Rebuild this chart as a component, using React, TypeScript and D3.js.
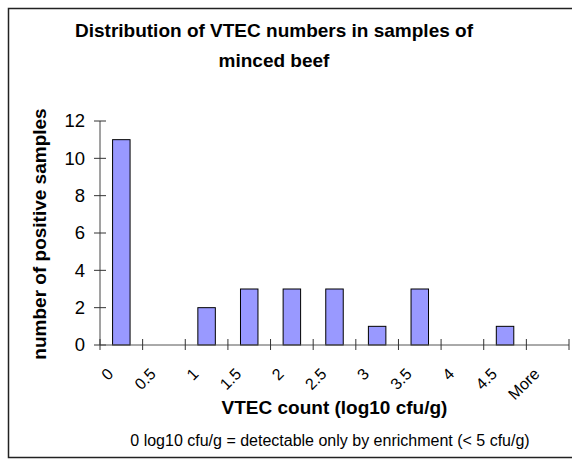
// Histogram of VTEC counts in minced beef samples, drawn with d3 scales in JSX
import React from 'react';
import * as d3 from 'd3';

const categories = ['0', '0.5', '1', '1.5', '2', '2.5', '3', '3.5', '4', '4.5', 'More'];
const counts = [11, 0, 2, 3, 3, 3, 1, 3, 0, 1, 0];
const yTicks = [0, 2, 4, 6, 8, 10, 12];

const titleLines = ['Distribution of VTEC numbers in samples of', 'minced beef'];
const xTitle = 'VTEC count (log10 cfu/g)';
const yTitle = 'number of positive samples';
const footnote = '0 log10 cfu/g = detectable only by enrichment (< 5 cfu/g)';

const W = 572;
const H = 459;
const FONT = '"Liberation Sans", Arial, sans-serif';

const plot = { left: 100, right: 569, top: 121, bottom: 345 };

const App: React.FC = () => {
  const x = d3.scaleBand<string>()
    .domain(categories)
    .range([plot.left, plot.right])
    .paddingInner(0)
    .paddingOuter(0);

  const y = d3.scaleLinear()
    .domain([0, 12])
    .range([plot.bottom, plot.top]);

  const bw = x.bandwidth();
  const barW = bw * 0.41;
  // границы категорий — для засечек оси X
  const edges = categories.map((c) => x(c) as number).concat([plot.right]);

  return (
    <svg width={W} height={H} style={{ position: 'absolute', left: 0, top: 0, background: '#fff' }}
      fontFamily={FONT}>
      <rect x={8.5} y={8.5} width={620} height={449} fill="#fff" stroke="#222" strokeWidth={1.5} />

      {titleLines.map((t, i) => (
        <text key={t} x={274} y={37 + i * 30} textAnchor="middle" fontSize={19} fontWeight="bold" fill="#000">
          {t}
        </text>
      ))}

      {/* bars */}
      {categories.map((c, i) => counts[i] > 0 ? (
        <rect key={c}
          x={(x(c) as number) + (bw - barW) / 2}
          y={y(counts[i])}
          width={barW}
          height={y(0) - y(counts[i])}
          fill="#9999FF" stroke="#000" strokeWidth={1} />
      ) : null)}

      {/* y axis */}
      <line x1={plot.left} x2={plot.left} y1={y(12)} y2={y(0)} stroke="#444" strokeWidth={1} />
      {yTicks.map((t) => (
        <g key={t}>
          <line x1={plot.left - 6} x2={plot.left + 6} y1={y(t)} y2={y(t)} stroke="#333" />
          <text x={85} y={y(t)} dy="0.35em" textAnchor="end" fontSize={18.5} fill="#000">{t}</text>
        </g>
      ))}

      {/* x axis */}
      <line x1={plot.left} x2={plot.right} y1={y(0)} y2={y(0)} stroke="#555" strokeWidth={1} />
      {edges.map((e, i) => (
        <line key={i} x1={e} x2={e} y1={y(0) - 6} y2={y(0) + 5} stroke="#333" />
      ))}
      {categories.map((c) => {
        const cx = (x(c) as number) + bw / 2;
        return (
          <text key={c} transform={`translate(${cx - 11},371) rotate(-45)`} dy="0.35em"
            textAnchor="end" fontSize={16} fill="#000">{c}</text>
        );
      })}

      <text x={(plot.left + plot.right) / 2} y={414} textAnchor="middle" fontSize={19} fontWeight="bold" fill="#000">
        {xTitle}
      </text>
      <text transform={`translate(46,234) rotate(-90)`} textAnchor="middle" fontSize={19}
        fontWeight="bold" fill="#000">
        {yTitle}
      </text>

      <text x={330} y={446} textAnchor="middle" fontSize={16} fill="#000">{footnote}</text>
    </svg>
  );
};

export default App;
